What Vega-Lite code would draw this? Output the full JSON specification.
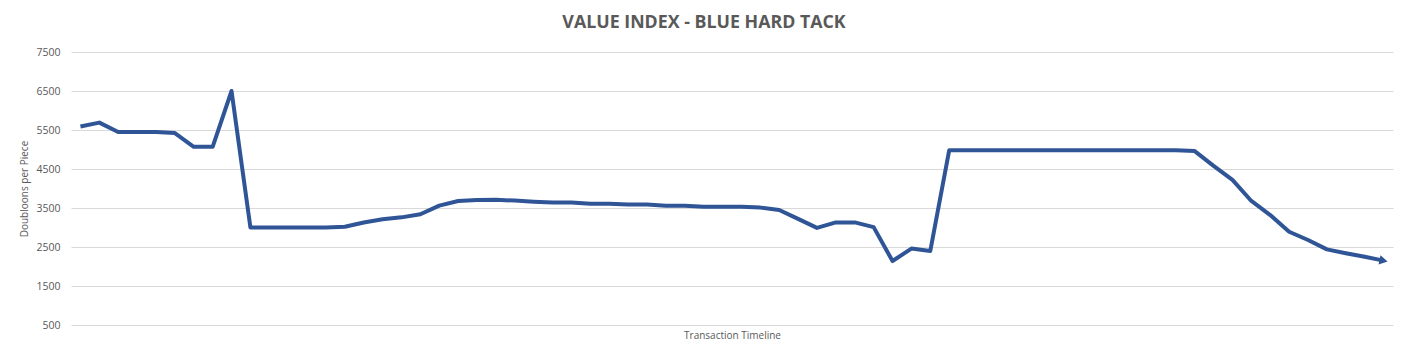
{
  "$schema": "https://vega.github.io/schema/vega-lite/v6.json",
  "width": 1322,
  "height": 273,
  "autosize": "none",
  "padding": {"left": 71, "top": 52, "right": 15, "bottom": 34},
  "background": "white",
  "config": {"view": {"stroke": null}, "font": "Open Sans"},
  "title": {
    "text": "VALUE INDEX - BLUE HARD TACK",
    "font": "Open Sans",
    "fontSize": 17.8,
    "fontWeight": "bold",
    "color": "#595959",
    "anchor": "middle",
    "dx": -28,
    "offset": 15
  },
  "data": {
    "values": [
      {"i": 0, "v": 5590}, {"i": 1, "v": 5690}, {"i": 2, "v": 5450}, {"i": 3, "v": 5450},
      {"i": 4, "v": 5450}, {"i": 5, "v": 5420}, {"i": 6, "v": 5070}, {"i": 7, "v": 5070},
      {"i": 8, "v": 6500}, {"i": 9, "v": 3000}, {"i": 10, "v": 3000}, {"i": 11, "v": 3000},
      {"i": 12, "v": 3000}, {"i": 13, "v": 3000}, {"i": 14, "v": 3020}, {"i": 15, "v": 3130},
      {"i": 16, "v": 3210}, {"i": 17, "v": 3260}, {"i": 18, "v": 3340}, {"i": 19, "v": 3560},
      {"i": 20, "v": 3680}, {"i": 21, "v": 3705}, {"i": 22, "v": 3710}, {"i": 23, "v": 3690},
      {"i": 24, "v": 3660}, {"i": 25, "v": 3640}, {"i": 26, "v": 3640}, {"i": 27, "v": 3610},
      {"i": 28, "v": 3610}, {"i": 29, "v": 3590}, {"i": 30, "v": 3590}, {"i": 31, "v": 3560},
      {"i": 32, "v": 3560}, {"i": 33, "v": 3530}, {"i": 34, "v": 3530}, {"i": 35, "v": 3530},
      {"i": 36, "v": 3510}, {"i": 37, "v": 3450}, {"i": 38, "v": 3220}, {"i": 39, "v": 2990},
      {"i": 40, "v": 3130}, {"i": 41, "v": 3130}, {"i": 42, "v": 3010}, {"i": 43, "v": 2140},
      {"i": 44, "v": 2460}, {"i": 45, "v": 2400}, {"i": 46, "v": 4980}, {"i": 47, "v": 4980},
      {"i": 48, "v": 4980}, {"i": 49, "v": 4980}, {"i": 50, "v": 4980}, {"i": 51, "v": 4980},
      {"i": 52, "v": 4980}, {"i": 53, "v": 4980}, {"i": 54, "v": 4980}, {"i": 55, "v": 4980},
      {"i": 56, "v": 4980}, {"i": 57, "v": 4980}, {"i": 58, "v": 4980}, {"i": 59, "v": 4960},
      {"i": 60, "v": 4580}, {"i": 61, "v": 4220}, {"i": 62, "v": 3680}, {"i": 63, "v": 3320},
      {"i": 64, "v": 2890}, {"i": 65, "v": 2680}, {"i": 66, "v": 2440}, {"i": 67, "v": 2340},
      {"i": 68, "v": 2250}, {"i": 69, "v": 2150}
    ]
  },
  "encoding": {
    "x": {
      "field": "i",
      "type": "quantitative",
      "scale": {"domain": [-0.5, 69.5], "nice": false, "zero": false},
      "axis": {
        "title": "Transaction Timeline",
        "labels": false,
        "ticks": false,
        "domain": false,
        "grid": false,
        "titleFont": "Open Sans",
        "titleFontSize": 10,
        "titleFontWeight": "normal",
        "titleColor": "#595959",
        "titlePadding": 5
      }
    },
    "y": {
      "field": "v",
      "type": "quantitative",
      "scale": {"domain": [500, 7500], "nice": false, "zero": false},
      "axis": {
        "title": "Doubloons per Piece",
        "values": [500, 1500, 2500, 3500, 4500, 5500, 6500, 7500],
        "format": "d",
        "labelFont": "Open Sans",
        "labelFontSize": 10.5,
        "labelColor": "#595959",
        "labelPadding": 11,
        "ticks": false,
        "domain": false,
        "gridColor": "#D9D9D9",
        "gridWidth": 1,
        "titleFont": "Open Sans",
        "titleFontSize": 10,
        "titleFontWeight": "normal",
        "titleColor": "#595959",
        "titlePadding": 6
      }
    }
  },
  "layer": [
    {
      "mark": {"type": "line", "color": "#2F5597", "strokeWidth": 4, "strokeJoin": "round"}
    },
    {
      "transform": [{"filter": "datum.i == 69"}],
      "mark": {"type": "point", "shape": "triangle-right", "filled": true, "color": "#2F5597", "opacity": 1, "size": 90, "angle": 12}
    }
  ]
}
